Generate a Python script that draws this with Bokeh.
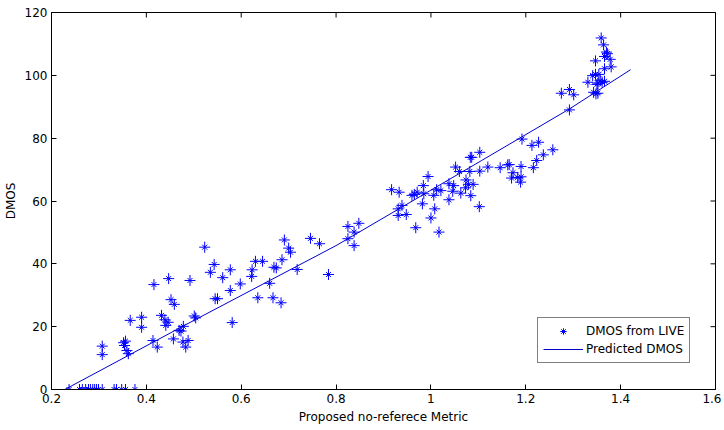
import math
from bokeh.plotting import figure
from bokeh.models import (Range1d, FixedTicker, Legend, LegendItem,
                          NumeralTickFormatter, ColumnDataSource)
from bokeh.embed import file_html
from bokeh.resources import INLINE

# DMOS from LIVE (scatter)
metric = [
    0.237, 0.259, 0.265, 0.272, 0.278, 0.282, 0.287, 0.291, 0.295, 0.299, 0.307, 0.332, 0.337, 0.348, 0.356, 0.376,
    0.307, 0.307, 0.352, 0.356, 0.354, 0.359, 0.362, 0.366, 0.390, 0.390, 0.414, 0.423, 0.432, 0.439, 0.446, 0.441,
    0.452, 0.459, 0.447, 0.416, 0.457, 0.473, 0.478, 0.469, 0.477, 0.488, 0.483, 0.501, 0.504, 0.492,
    0.523, 0.543, 0.535, 0.561, 0.577, 0.577, 0.598, 0.545, 0.550, 0.581, 0.630, 0.645, 0.623, 0.622,
    0.669, 0.674, 0.686, 0.691, 0.700, 0.704, 0.660, 0.635, 0.667, 0.684, 0.718, 0.746, 0.765, 0.784,
    0.825, 0.848, 0.838, 0.825, 0.838,
    0.917, 0.933, 0.931, 0.939, 0.931, 0.948, 0.960, 0.965, 0.971, 0.985, 0.984, 0.994, 0.982, 0.968,
    1.008, 1.000, 1.017, 1.006, 1.012, 1.021, 1.038, 1.048, 1.046, 1.038, 1.052, 1.060, 1.063, 1.073,
    1.074, 1.079, 1.089, 1.084, 1.083, 1.086, 1.082, 1.103, 1.102, 1.103, 1.120, 1.146, 1.162, 1.165,
    1.190, 1.216, 1.223, 1.237, 1.257, 1.213, 1.227, 1.192, 1.173, 1.170, 1.183, 1.190, 1.189,
    1.275, 1.292, 1.301, 1.292, 1.331, 1.341, 1.347, 1.354, 1.357, 1.352, 1.361, 1.366, 1.350,
    1.343, 1.348, 1.352, 1.359, 1.364, 1.370, 1.366, 1.372, 1.378, 1.347, 1.366, 1.380,
]
dmos = [
    0, 0, 0, 0, 0, 0, 0, 0, 0, 0, 0, 0, 0, 0, 0, 0,
    13.8, 11.1, 14.9, 15.4, 14.0, 12.4, 11.4, 22.0, 23.0, 19.8, 15.6, 13.5, 23.6, 22.2, 21.4, 20.4,
    28.6, 27.1, 35.3, 33.4, 16.1, 18.6, 20.1, 18.8, 15.1, 15.6, 13.5, 23.4, 22.8, 34.7,
    45.3, 39.8, 37.3, 35.6, 38.1, 31.5, 33.6, 28.9, 28.9, 21.3, 40.8, 40.8, 38.1, 36.0,
    38.9, 38.7, 41.3, 47.6, 45.0, 43.7, 33.8, 29.2, 29.2, 27.6, 38.2, 48.1, 46.4, 36.6,
    51.9, 52.9, 50.1, 48.0, 45.8,
    63.6, 62.8, 57.5, 58.6, 55.4, 55.7, 61.8, 62.1, 62.8, 62.3, 64.9, 67.8, 59.1, 51.5,
    57.5, 54.6, 50.1, 61.8, 63.6, 63.3, 65.5, 64.9, 63.1, 60.4, 70.8, 69.4, 62.5, 64.2,
    66.7, 65.3, 65.3, 61.7, 73.9, 73.9, 69.4, 69.5, 58.2, 75.5, 70.8, 70.6, 71.5, 71.6,
    71.0, 70.6, 72.9, 74.7, 76.3, 77.7, 78.7, 79.7, 69.0, 67.3, 67.5, 67.7, 66.0,
    94.3, 95.5, 93.8, 89.0, 97.8, 99.9, 100.3, 100.3, 98.3, 97.5, 97.8, 98.1, 97.1,
    94.6, 94.1, 94.3, 111.9, 109.7, 107.4, 106.0, 106.9, 105.1, 104.6, 102.1, 102.7,
]

# Predicted DMOS (line)
pred_x = [0.228, 0.494, 0.800, 1.107, 1.292, 1.421]
pred_y = [0.0, 21.5, 45.8, 72.9, 89.3, 101.8]

x_ticks = [0.2, 0.4, 0.6, 0.8, 1.0, 1.2, 1.4, 1.6]
y_ticks = [0, 20, 40, 60, 80, 100, 120]

FONT = "DejaVu Sans"
BLUE = "#0000ff"

p = figure(output_backend="svg", toolbar_location=None,
           frame_width=664, frame_height=377,
           x_range=Range1d(x_ticks[0], x_ticks[-1]), y_range=Range1d(y_ticks[0], y_ticks[-1]),
           min_border_left=51, min_border_top=12, min_border_right=6, min_border_bottom=36,
           x_axis_label="Proposed no-referece Metric", y_axis_label="DMOS")
p.background_fill_color = "white"
p.border_fill_color = "white"
p.outline_line_color = "black"
p.outline_line_width = 1
p.grid.visible = False

src = ColumnDataSource(dict(x=metric, y=dmos))
r1 = p.scatter("x", "y", source=src, marker="cross", size=11, line_color=BLUE, line_width=1)
r2 = p.scatter("x", "y", source=src, marker="x", size=7, line_color=BLUE, line_width=1)
r3 = p.line(pred_x, pred_y, line_color="#0000cc", line_width=1)

# inward tick marks on the top and right edges of the box
p.scatter(x_ticks, [y_ticks[-1]] * len(x_ticks), marker="dash", size=10, angle=math.pi / 2,
          line_color="black", line_width=1)
p.scatter([x_ticks[-1]] * len(y_ticks), y_ticks, marker="dash", size=10,
          line_color="black", line_width=1)

for ax in (p.xaxis[0], p.yaxis[0]):
    ax.major_tick_in = 5
    ax.major_tick_out = 0
    ax.minor_tick_line_color = None
    ax.axis_line_color = "black"
    ax.major_tick_line_color = "black"
    ax.major_label_text_font = FONT
    ax.major_label_text_font_size = "12px"
    ax.major_label_text_color = "black"
    ax.axis_label_text_font = FONT
    ax.axis_label_text_font_size = "12px"
    ax.axis_label_text_font_style = "normal"
    ax.axis_label_text_color = "black"
    ax.major_label_standoff = 4
    ax.axis_label_standoff = 4

p.xaxis[0].ticker = FixedTicker(ticks=x_ticks)
p.xaxis[0].formatter = NumeralTickFormatter(format="0.[0]")
p.yaxis[0].ticker = FixedTicker(ticks=y_ticks)

legend = Legend(items=[LegendItem(label="DMOS from LIVE", renderers=[r1, r2]),
                       LegendItem(label="Predicted DMOS", renderers=[r3])],
                location=(486, 26))
legend.label_text_font = FONT
legend.label_text_font_size = "12px"
legend.label_text_color = "black"
legend.glyph_width = 40
legend.glyph_height = 16
legend.label_height = 16
legend.label_standoff = 3
legend.spacing = 2
legend.padding = 5
legend.margin = 0
legend.border_line_color = "black"
legend.border_line_width = 1
legend.background_fill_color = "white"
p.add_layout(legend, "center")

open("out.html", "w").write(file_html(p, INLINE))
